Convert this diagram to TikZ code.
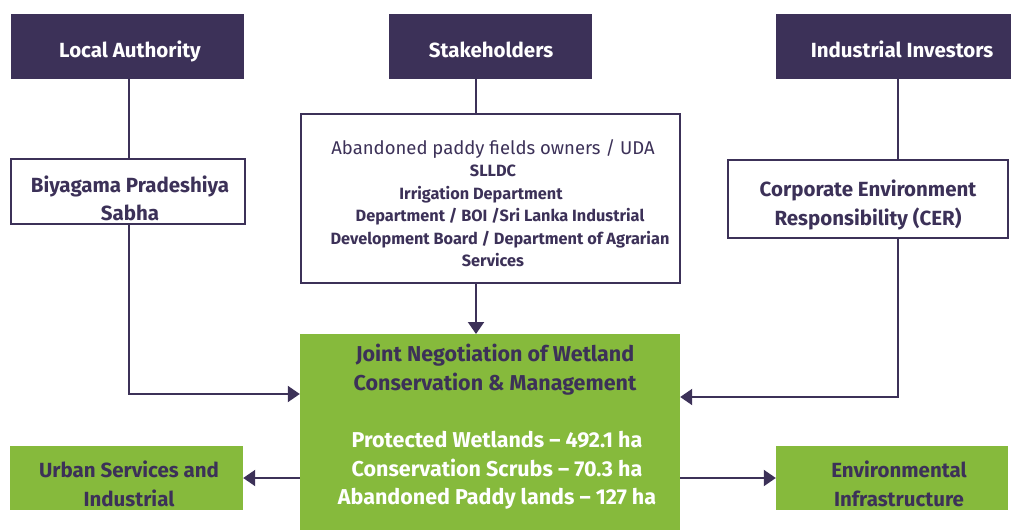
\documentclass[tikz,border=0pt]{standalone}
\usepackage{fontspec}
\setmainfont{Fira Sans}
\usetikzlibrary{arrows.meta}
\definecolor{dpurple}{HTML}{3C3158}
\definecolor{lgreen}{HTML}{86BA3C}
\tikzset{
  head/.style={fill=dpurple, minimum width=#1, minimum height=65pt, inner sep=0pt},
  htext/.style={text=white, font=\bfseries\fontsize{20.5}{24}\selectfont, anchor=base},
  wbox/.style={fill=white, draw=dpurple, line width=2pt, inner sep=0pt},
  gbox/.style={fill=lgreen, inner sep=0pt},
  gtext/.style={text=dpurple, align=center, inner sep=0pt, font=\bfseries\fontsize{20.5}{29}\selectfont},
  conn/.style={dpurple, line width=2pt},
  arr/.style={conn, -{Triangle[length=12pt,width=16pt]}},
}
\begin{document}
\begin{tikzpicture}[x=1pt,y=-1pt]
\useasboundingbox (0,0) rectangle (1011,530);
% headers
\node[head=233pt] (la) at (127.5,46.5) {};
\node[head=203pt] (sh) at (490.5,46.5) {};
\node[head=236pt] (ii) at (894,46.5) {};
\node[htext] (lat) at (130,57) {Local Authority};
\node[htext] (sht) at (491,57) {Stakeholders};
\node[htext] (iit) at (902,57) {Industrial Investors};
% white boxes
\node[wbox, minimum width=234pt, minimum height=65pt] (bp) at (127.5,191) {};
\node[text=dpurple, align=center, font=\bfseries\fontsize{20.5}{28}\selectfont] (bpt) at (130,198) {Biyagama Pradeshiya\\Sabha};
\node[wbox, minimum width=379pt, minimum height=169pt] (st) at (490.5,198.5) {};
\node[text=dpurple, align=center, font=\bfseries\fontsize{16.3}{22.5}\selectfont] (stt) at (493,203) {{\mdseries\fontsize{18.5}{22.5}\selectfont Abandoned paddy fields owners / UDA}\\SLLDC\\Irrigation Department\kern24pt\\\kern14pt Department / BOI /Sri Lanka Industrial\\\kern14pt Development Board / Department of Agrarian\\Services};
\node[wbox, minimum width=280pt, minimum height=78pt] (cer) at (868,199) {};
\node[text=dpurple, align=center, font=\bfseries\fontsize{20.5}{29}\selectfont] (cert) at (868,205) {Corporate Environment\\Responsibility (CER)};
% green boxes
\node[gbox, minimum width=380pt, minimum height=196pt, anchor=north] (jn) at (490,334) {};
\node[text=dpurple, font=\bfseries\fontsize{21.5}{28.5}\selectfont, align=center, anchor=north] (jnt) at (495,341) {Joint Negotiation of Wetland\\Conservation \& Management};
\node[text=white, font=\bfseries\fontsize{21.5}{28.5}\selectfont, align=center, anchor=north] (jnv) at (497,428) {Protected Wetlands – 492.1 ha\\Conservation Scrubs – 70.3 ha\\Abandoned Paddy lands – 127 ha};
\node[gbox, minimum width=233pt, minimum height=64pt] (us) at (126.5,478) {};
\node[gtext] (ust) at (129,484) {Urban Services and\\Industrial};
\node[gbox, minimum width=232pt, minimum height=64pt] (ei) at (892,478) {};
\node[gtext] (eit) at (899,484) {Environmental\\Infrastructure};
% connectors
\coordinate (cL) at (129,0);
\coordinate (cM) at (476,0);
\coordinate (cR) at (898,0);
\draw[conn] (cL |- la.south) -- (cL |- bp.north);
\draw[conn] (cM |- sh.south) -- (cM |- st.north);
\draw[conn] (cR |- ii.south) -- (cR |- cer.north);
\draw[arr] (cM |- st.south) -- (cM |- jn.north);
\coordinate (c4) at (0,394);
\draw[arr] (cL |- bp.south) -- (cL |- c4) -- (jn.west |- c4);
\coordinate (c5) at (0,397);
\draw[arr] (cR |- cer.south) -- (cR |- c5) -- (jn.east |- c5);
\draw[arr] (jn.west |- us.east) -- (us.east);
\draw[arr] (jn.east |- ei.west) -- (ei.west);
\end{tikzpicture}
\end{document}
